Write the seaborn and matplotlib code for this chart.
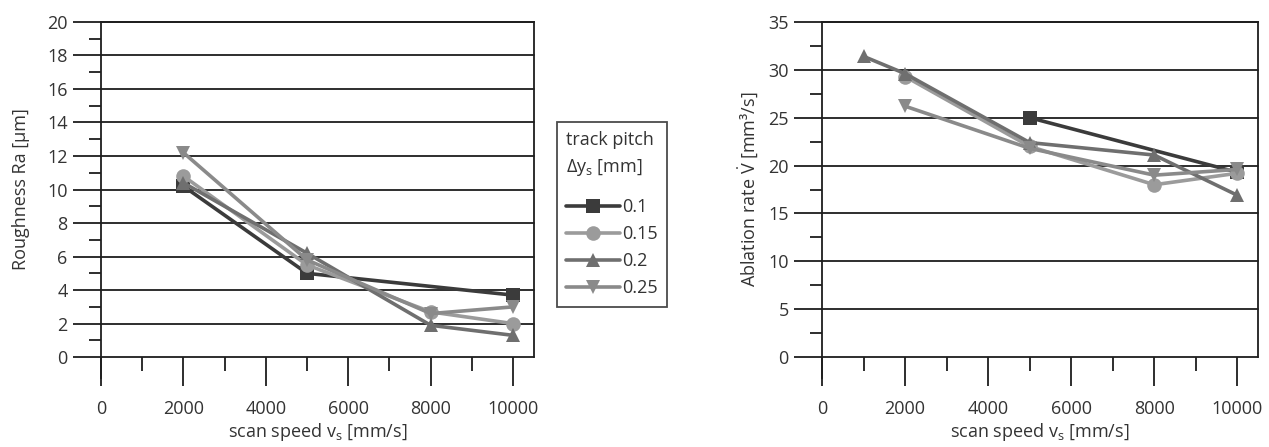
import matplotlib
matplotlib.use("Agg")
import matplotlib.pyplot as plt
from matplotlib.ticker import MultipleLocator
import numpy as np
import pandas as pd
import seaborn as sns

# track pitch series
pitches = ["0.1", "0.15", "0.2", "0.25"]
pitch_colors = ["#3b3b3b", "#9b9b9b", "#6f6f6f", "#8a8a8a"]
pitch_markers = ["s", "o", "^", "v"]

# roughness Ra [um] vs scan speed
speed_ra = [2000, 5000, 8000, 10000]
ra_01 = [10.2, 5.0, np.nan, 3.7]
ra_015 = [10.8, 5.5, 2.7, 2.0]
ra_02 = [10.4, 6.2, 1.9, 1.3]
ra_025 = [12.2, 5.8, 2.6, 3.0]

# ablation rate [mm3/s] vs scan speed
speed_ab = [1000, 2000, 5000, 8000, 10000]
ab_01 = [np.nan, np.nan, 25.0, np.nan, 19.3]
ab_015 = [np.nan, 29.3, 22.0, 18.0, 19.2]
ab_02 = [31.4, 29.6, 22.4, 21.1, 16.9]
ab_025 = [np.nan, 26.2, 21.8, 19.0, 19.6]


def long_table(x, series):
    frames = []
    for name, vals in zip(pitches, series):
        frames.append(pd.DataFrame({"speed": x, "value": vals, "pitch": name}))
    return pd.concat(frames, ignore_index=True)


df_ra = long_table(speed_ra, [ra_01, ra_015, ra_02, ra_025])
df_ab = long_table(speed_ab, [ab_01, ab_015, ab_02, ab_025])

sns.set_theme(style="white")
plt.rcParams["font.family"] = ["Open Sans", "DejaVu Sans"]
plt.rcParams["mathtext.fontset"] = "custom"
plt.rcParams["mathtext.rm"] = "Open Sans"
plt.rcParams["mathtext.it"] = "Open Sans"
text_col = "#333333"
line_col = "#1e1e1e"

fig = plt.figure(figsize=(12.69, 4.47), dpi=100)
ax1 = fig.add_axes([0.0796, 0.201, 0.341, 0.750])
ax2 = fig.add_axes([0.6478, 0.201, 0.3436, 0.750])

palette = dict(zip(pitches, pitch_colors))
markers = dict(zip(pitches, pitch_markers))


def style_axis(ax, ymax, ystep, yminor, below, ylabel):
    ax.set_xlim(0, 10500)
    ax.set_ylim(0, ymax)
    ax.xaxis.set_major_locator(MultipleLocator(2000))
    ax.xaxis.set_minor_locator(MultipleLocator(1000))
    ax.yaxis.set_major_locator(MultipleLocator(ystep))
    ax.yaxis.set_minor_locator(MultipleLocator(yminor))
    for y in np.arange(0, ymax + 0.01, ystep):
        ax.axhline(y, color=line_col, lw=1.3, zorder=1, clip_on=False)
    ax.spines["bottom"].set_visible(False)
    for s in ["left", "top", "right"]:
        ax.spines[s].set_color(line_col)
        ax.spines[s].set_linewidth(1.3)
    # left spine runs a little below the zero line
    ax.spines["left"].set_bounds(-below, ymax)
    ax.tick_params(axis="y", which="major", direction="out", length=20, width=1.3,
                   color=line_col, pad=4, labelsize=13, labelcolor=text_col, left=True)
    ax.tick_params(axis="y", which="minor", direction="out", length=9, width=1.3,
                   color=line_col, left=True)
    ax.tick_params(axis="x", which="major", direction="out", length=21, width=1.3,
                   color=line_col, pad=10, labelsize=13, labelcolor=text_col, bottom=True)
    ax.tick_params(axis="x", which="minor", direction="out", length=10, width=1.3,
                   color=line_col, bottom=True)
    ax.set_xlabel(r"scan speed v$_\mathregular{s}$ [mm/s]", fontsize=13, color=text_col,
                  labelpad=2)
    ax.set_ylabel(ylabel, fontsize=13, color=text_col, labelpad=6)


for ax, df in [(ax1, df_ra), (ax2, df_ab)]:
    sns.lineplot(data=df, x="speed", y="value", hue="pitch", style="pitch",
                 palette=palette, markers=markers, dashes=False, linewidth=2.6,
                 markersize=10.5, markeredgewidth=0, ax=ax, zorder=3)

style_axis(ax1, 20, 2, 1, 1.25, "Roughness Ra [µm]")
style_axis(ax2, 35, 5, 2.5, 2.2, r"Ablation rate $\dot{\mathregular{V}}$ [mm³/s]")
ax1.yaxis.set_label_coords(-0.163, 0.5)

handles, labels = ax1.get_legend_handles_labels()
ax1.get_legend().remove()
ax2.get_legend().remove()

leg = fig.legend(handles, labels, loc="upper left", bbox_to_anchor=(0.439, 0.727),
                 title="track pitch\nΔy$_\\mathregular{s}$ [mm]", fontsize=13,
                 title_fontsize=13, frameon=True, fancybox=False, borderaxespad=0,
                 handlelength=3.0, handletextpad=0.1, labelspacing=0.5,
                 borderpad=0.5)
leg._legend_box.align = "left"
leg._legend_box.sep = 15
leg.get_frame().set_edgecolor(line_col)
leg.get_frame().set_linewidth(1.3)
for t in leg.get_texts():
    t.set_color(text_col)
leg.get_title().set_color(text_col)
leg.get_title().set_linespacing(1.5)

fig.savefig("out.png", dpi=100)
